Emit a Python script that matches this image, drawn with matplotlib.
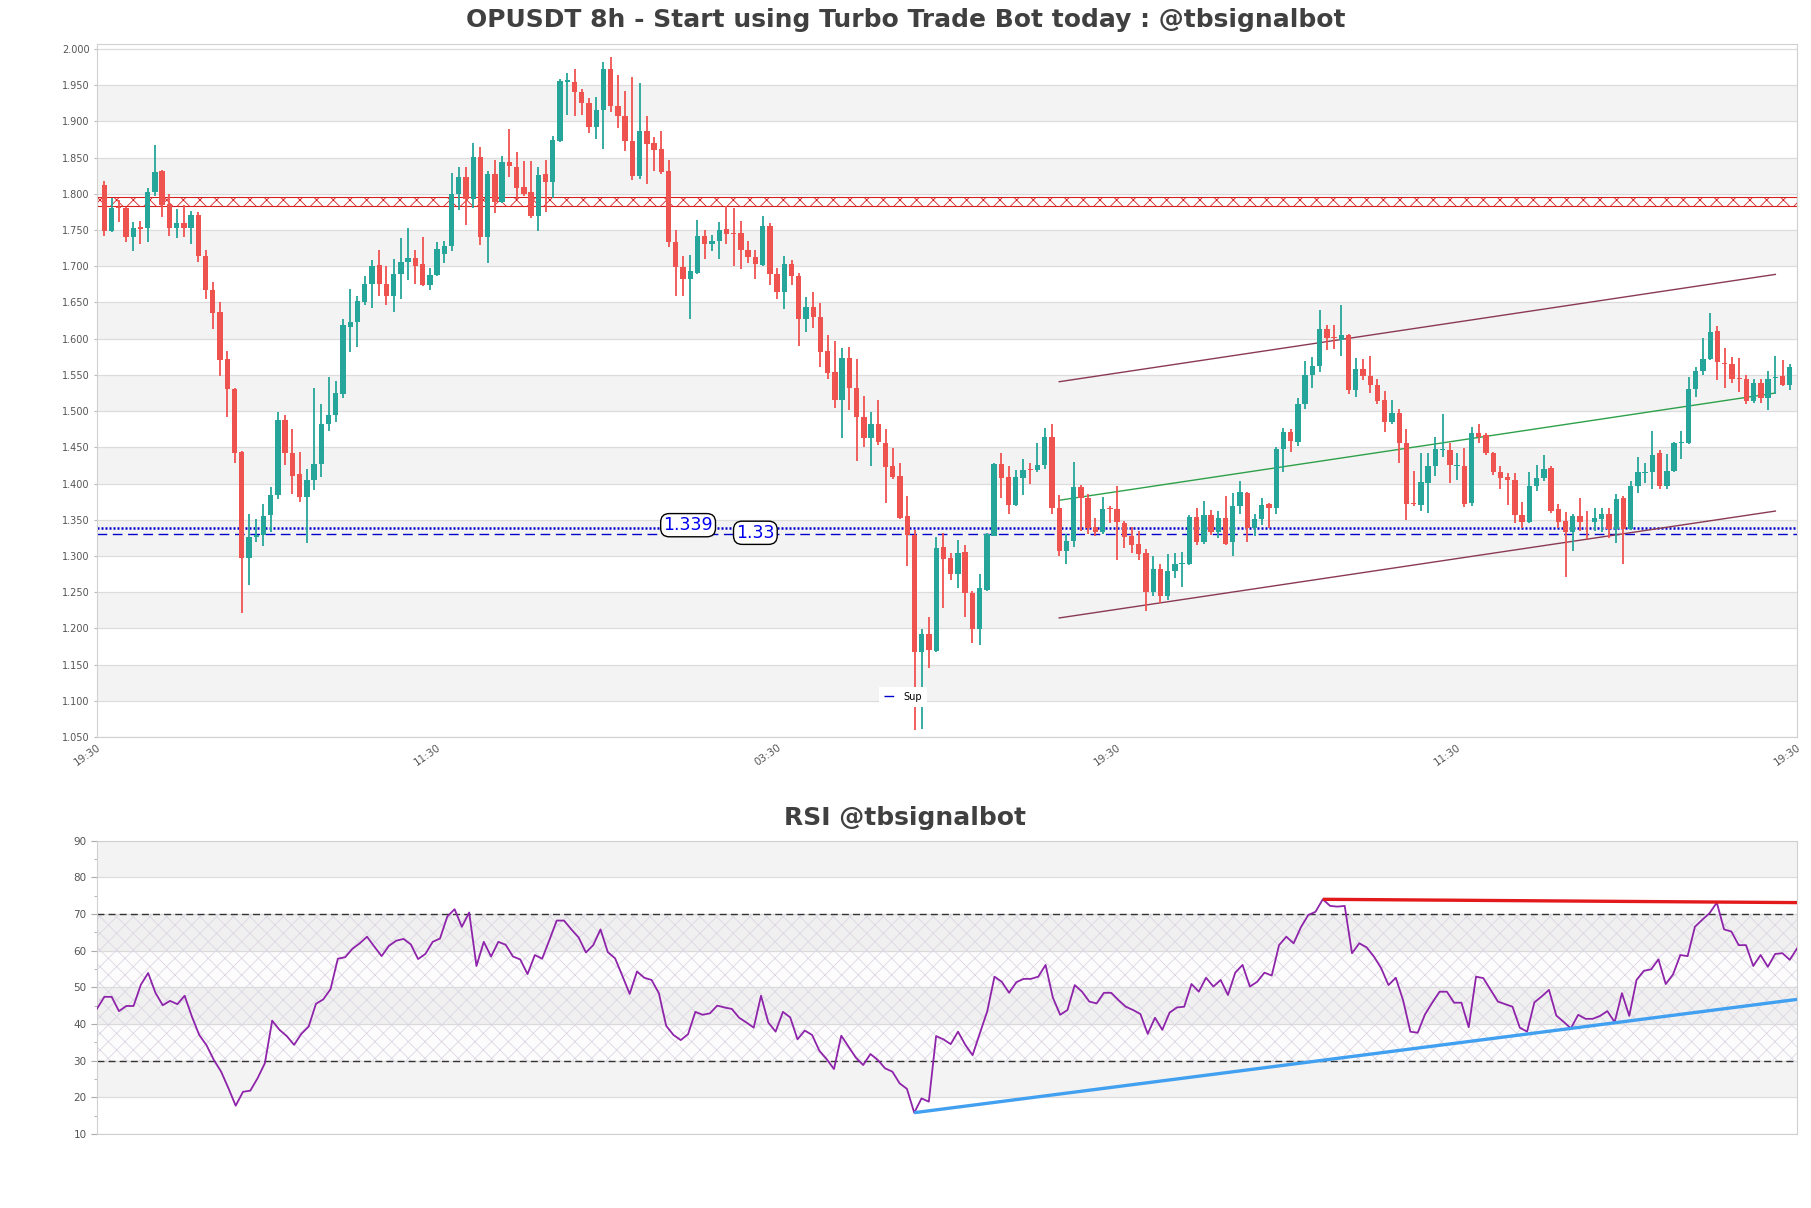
import numpy as np
import matplotlib
matplotlib.use("Agg")
import matplotlib.pyplot as plt

plt.rcParams['font.family'] = ['DejaVu Sans']
plt.rcParams['hatch.linewidth'] = 0.6

# ---------------- data ----------------
opens = [1.8125, 1.749, 1.781, 1.781, 1.741, 1.754, 1.753, 1.802, 1.832, 1.786,
         1.753, 1.760, 1.753, 1.771, 1.714, 1.667, 1.6375, 1.572, 1.531, 1.443,
         1.297, 1.326, 1.329, 1.356, 1.384, 1.4875, 1.442, 1.4138, 1.382, 1.405,
         1.427, 1.4825, 1.495, 1.524, 1.616, 1.6225, 1.651, 1.676, 1.702, 1.676,
         1.659, 1.689, 1.706, 1.712, 1.703, 1.674, 1.688, 1.7175, 1.7275, 1.800,
         1.823, 1.7925, 1.851, 1.741, 1.8275, 1.789, 1.8444, 1.8375, 1.8094, 1.8025,
         1.770, 1.8269, 1.817, 1.8725, 1.955, 1.955, 1.940, 1.9256, 1.8925, 1.9156,
         1.972, 1.922, 1.908, 1.8725, 1.825, 1.8875, 1.870, 1.8625, 1.831, 1.7338,
         1.6988, 1.6831, 1.6906, 1.7419, 1.7313, 1.7344, 1.7513, 1.7456, 1.7463, 1.7231,
         1.7125, 1.7019, 1.7563, 1.6894, 1.665, 1.7031, 1.6863, 1.6275, 1.6431, 1.630,
         1.5825, 1.5544, 1.5156, 1.5731, 1.5313, 1.4919, 1.4625, 1.4825, 1.4563, 1.4238,
         1.4106, 1.355, 1.3294, 1.1675, 1.1925, 1.1688, 1.3125, 1.2969, 1.275, 1.305,
         1.2488, 1.1988, 1.2531, 1.3281, 1.4269, 1.4094, 1.370, 1.4081, 1.4206, 1.4188,
         1.425, 1.4638, 1.3656, 1.3075, 1.320, 1.395, 1.380, 1.3406, 1.3325, 1.365,
         1.3644, 1.3456, 1.3281, 1.3169, 1.3044, 1.250, 1.2825, 1.245, 1.2794, 1.2888,
         1.2888, 1.3544, 1.3188, 1.3563, 1.3325, 1.3519, 1.3188, 1.3688, 1.3875, 1.3388,
         1.3513, 1.3719, 1.3656, 1.4481, 1.4706, 1.4575, 1.5094, 1.550, 1.5625, 1.6138,
         1.6019, 1.5988, 1.605, 1.5294, 1.5575, 1.5488, 1.5363, 1.5156, 1.4844, 1.4981,
         1.4563, 1.3725, 1.3706, 1.4013, 1.4238, 1.4463, 1.4469, 1.4244, 1.4238, 1.3738,
         1.470, 1.4675, 1.4425, 1.4156, 1.4094, 1.405, 1.3563, 1.3469, 1.3969, 1.4075,
         1.4219, 1.3644, 1.3481, 1.3331, 1.355, 1.3475, 1.3469, 1.3513, 1.3581, 1.3375,
         1.380, 1.3375, 1.3969, 1.415, 1.4156, 1.4419, 1.3969, 1.4169, 1.4556, 1.4563,
         1.530, 1.555, 1.5719, 1.6106, 1.5663, 1.5644, 1.5463, 1.5438, 1.5144, 1.5388,
         1.5175, 1.5456, 1.5488, 1.5363]
highs = [1.8175, 1.794, 1.791, 1.782, 1.761, 1.7625, 1.8075, 1.8675, 1.833, 1.800,
         1.779, 1.784, 1.776, 1.775, 1.722, 1.678, 1.650, 1.5825, 1.532, 1.445,
         1.3575, 1.351, 1.372, 1.395, 1.499, 1.494, 1.475, 1.444, 1.420, 1.5325,
         1.5094, 1.547, 1.541, 1.627, 1.669, 1.659, 1.686, 1.709, 1.722, 1.700,
         1.7106, 1.7394, 1.753, 1.722, 1.740, 1.697, 1.7338, 1.735, 1.8288, 1.8375,
         1.8375, 1.8706, 1.865, 1.831, 1.847, 1.8525, 1.8894, 1.858, 1.845, 1.845,
         1.8375, 1.847, 1.8794, 1.959, 1.967, 1.972, 1.945, 1.933, 1.934, 1.9825,
         1.9888, 1.964, 1.942, 1.961, 1.953, 1.9075, 1.878, 1.8875, 1.847, 1.750,
         1.7138, 1.7156, 1.7638, 1.750, 1.7438, 1.7606, 1.7838, 1.780, 1.7625, 1.7344,
         1.7219, 1.7688, 1.7594, 1.6981, 1.7144, 1.7081, 1.6906, 1.6575, 1.6644, 1.6488,
         1.605, 1.5969, 1.5875, 1.5888, 1.5719, 1.5206, 1.4988, 1.5156, 1.475, 1.4488,
         1.4281, 1.3831, 1.3363, 1.1988, 1.2156, 1.3263, 1.3313, 1.3044, 1.3219, 1.3156,
         1.2513, 1.275, 1.3313, 1.4281, 1.4425, 1.4238, 1.4188, 1.4344, 1.4281, 1.4563,
         1.4769, 1.4825, 1.3844, 1.330, 1.430, 1.3981, 1.3856, 1.3531, 1.3813, 1.3688,
         1.3969, 1.3488, 1.3406, 1.3344, 1.3094, 1.300, 1.2888, 1.3031, 1.3044, 1.305,
         1.3563, 1.3656, 1.3763, 1.3638, 1.3625, 1.3825, 1.3875, 1.4031, 1.3888, 1.3575,
         1.380, 1.3738, 1.450, 1.4763, 1.475, 1.5175, 1.5688, 1.575, 1.6394, 1.6188,
         1.6188, 1.6469, 1.6063, 1.5731, 1.5719, 1.5763, 1.5438, 1.5281, 1.5156, 1.5031,
         1.475, 1.4169, 1.4419, 1.4425, 1.4644, 1.4963, 1.4563, 1.4419, 1.4488, 1.4781,
         1.4825, 1.470, 1.4438, 1.4238, 1.4144, 1.4144, 1.375, 1.4156, 1.425, 1.4388,
         1.4238, 1.3719, 1.3613, 1.3575, 1.380, 1.3625, 1.3656, 1.3669, 1.3656, 1.3856,
         1.3825, 1.4031, 1.4363, 1.4281, 1.4719, 1.4469, 1.4406, 1.4575, 1.4719, 1.5469,
         1.5613, 1.6013, 1.6356, 1.6169, 1.5875, 1.575, 1.5731, 1.550, 1.5438, 1.5438,
         1.555, 1.5763, 1.5706, 1.5656]
lows = [1.7425, 1.747, 1.761, 1.734, 1.721, 1.731, 1.734, 1.797, 1.7675, 1.7425,
        1.739, 1.741, 1.731, 1.706, 1.655, 1.614, 1.549, 1.492, 1.428, 1.2206,
        1.2594, 1.319, 1.3138, 1.3325, 1.379, 1.425, 1.386, 1.374, 1.3175, 1.3906,
        1.4094, 1.472, 1.4844, 1.5175, 1.581, 1.589, 1.646, 1.642, 1.659, 1.647,
        1.6375, 1.655, 1.681, 1.675, 1.673, 1.667, 1.686, 1.705, 1.7206, 1.778,
        1.7575, 1.781, 1.730, 1.705, 1.773, 1.788, 1.823, 1.7925, 1.797, 1.767,
        1.749, 1.775, 1.794, 1.872, 1.909, 1.908, 1.909, 1.884, 1.876, 1.8625,
        1.9125, 1.8906, 1.859, 1.819, 1.8206, 1.814, 1.831, 1.828, 1.7269, 1.6594,
        1.6594, 1.6269, 1.6888, 1.7094, 1.7206, 1.7094, 1.7313, 1.700, 1.6956, 1.705,
        1.6825, 1.700, 1.6738, 1.655, 1.6406, 1.6738, 1.5894, 1.6094, 1.6144, 1.5613,
        1.5438, 1.505, 1.4625, 1.5019, 1.4313, 1.450, 1.4238, 1.4531, 1.3738, 1.4063,
        1.3513, 1.2856, 1.0594, 1.0613, 1.145, 1.1675, 1.2281, 1.2669, 1.2563, 1.2156,
        1.180, 1.1769, 1.2519, 1.3269, 1.3794, 1.3575, 1.3688, 1.3844, 1.3988, 1.4156,
        1.420, 1.3575, 1.300, 1.2894, 1.3125, 1.3344, 1.330, 1.3269, 1.330, 1.345,
        1.2938, 1.3113, 1.3044, 1.295, 1.2238, 1.245, 1.2344, 1.2394, 1.270, 1.2575,
        1.2875, 1.3156, 1.3169, 1.3294, 1.325, 1.3156, 1.300, 1.3575, 1.3188, 1.3281,
        1.3425, 1.3388, 1.3575, 1.4156, 1.4438, 1.4513, 1.5031, 1.5313, 1.5544, 1.5844,
        1.5863, 1.5763, 1.5231, 1.520, 1.5425, 1.525, 1.5094, 1.4706, 1.4825, 1.4281,
        1.350, 1.3688, 1.3625, 1.3594, 1.4106, 1.4363, 1.4013, 1.4044, 1.3675, 1.3688,
        1.4563, 1.4388, 1.4113, 1.3919, 1.3706, 1.345, 1.3388, 1.3456, 1.3894, 1.4031,
        1.3594, 1.3388, 1.2706, 1.3075, 1.3344, 1.3238, 1.3344, 1.3325, 1.325, 1.3175,
        1.2888, 1.3363, 1.3875, 1.4013, 1.3919, 1.3919, 1.3919, 1.4156, 1.4344, 1.455,
        1.520, 1.550, 1.570, 1.5425, 1.5325, 1.5394, 1.5263, 1.5094, 1.5113, 1.5106,
        1.5013, 1.5238, 1.5344, 1.5294]
closes = [1.749, 1.781, 1.780, 1.741, 1.753, 1.752, 1.802, 1.830, 1.784, 1.753,
          1.760, 1.753, 1.771, 1.714, 1.667, 1.636, 1.571, 1.531, 1.442, 1.297,
          1.326, 1.329, 1.3556, 1.3844, 1.4875, 1.442, 1.411, 1.381, 1.405, 1.427,
          1.4825, 1.495, 1.525, 1.619, 1.6225, 1.6525, 1.675, 1.701, 1.676, 1.659,
          1.6894, 1.706, 1.712, 1.701, 1.674, 1.688, 1.7238, 1.728, 1.800, 1.823,
          1.7925, 1.851, 1.741, 1.8275, 1.7888, 1.8444, 1.838, 1.808, 1.800, 1.770,
          1.826, 1.817, 1.8744, 1.956, 1.957, 1.940, 1.925, 1.8925, 1.9156, 1.972,
          1.922, 1.9075, 1.8725, 1.825, 1.8875, 1.869, 1.8606, 1.830, 1.7338, 1.6988,
          1.6831, 1.6938, 1.7419, 1.7313, 1.7344, 1.750, 1.745, 1.7444, 1.7231, 1.7125,
          1.7025, 1.7563, 1.6894, 1.665, 1.7031, 1.6863, 1.6275, 1.6438, 1.6294, 1.5813,
          1.5531, 1.5156, 1.5731, 1.5313, 1.4919, 1.4625, 1.4825, 1.4575, 1.4231, 1.4088,
          1.3525, 1.3294, 1.1675, 1.1925, 1.170, 1.3113, 1.2963, 1.275, 1.3044, 1.2488,
          1.1988, 1.2563, 1.330, 1.4263, 1.4081, 1.370, 1.4094, 1.4188, 1.4188, 1.425,
          1.4638, 1.3656, 1.3075, 1.3213, 1.395, 1.380, 1.3388, 1.3325, 1.3644, 1.3644,
          1.3469, 1.3263, 1.3156, 1.3031, 1.250, 1.2825, 1.245, 1.2794, 1.2888, 1.290,
          1.3544, 1.3188, 1.3563, 1.3325, 1.3519, 1.3169, 1.3688, 1.3888, 1.3388, 1.3513,
          1.3706, 1.3656, 1.4481, 1.4706, 1.4581, 1.5094, 1.550, 1.5625, 1.6138, 1.6013,
          1.6006, 1.605, 1.5294, 1.5575, 1.5488, 1.5363, 1.5144, 1.4844, 1.4981, 1.4563,
          1.3719, 1.3713, 1.4019, 1.4238, 1.4481, 1.4481, 1.425, 1.4256, 1.3719, 1.470,
          1.4638, 1.4419, 1.4156, 1.4081, 1.4044, 1.3563, 1.3469, 1.3969, 1.4075, 1.4206,
          1.3625, 1.3469, 1.3331, 1.355, 1.3469, 1.3463, 1.3519, 1.3581, 1.3375, 1.3781,
          1.3375, 1.3969, 1.4156, 1.4163, 1.4388, 1.3969, 1.4169, 1.4563, 1.4569, 1.530,
          1.555, 1.5719, 1.6094, 1.5675, 1.565, 1.5438, 1.545, 1.5144, 1.5388, 1.5175,
          1.5438, 1.5475, 1.5363, 1.5613]

rsi = [44.2, 47.4, 47.4, 43.5, 44.9, 44.9, 50.7, 53.9, 48.5, 45.1,
       46.3, 45.4, 47.7, 42.0, 37.0, 34.2, 30.2, 27.0, 22.5, 17.7,
       21.5, 21.8, 25.2, 29.3, 40.9, 38.4, 36.7, 34.3, 37.3, 39.3,
       45.5, 46.7, 49.5, 57.8, 58.2, 60.5, 62.0, 63.8, 61.1, 58.5,
       61.3, 62.7, 63.2, 61.7, 57.7, 59.1, 62.4, 63.3, 69.3, 71.3,
       66.5, 70.4, 55.8, 62.4, 58.4, 62.4, 61.6, 58.4, 57.6, 53.6,
       58.8, 57.8, 62.9, 68.2, 68.2, 65.8, 63.6, 59.5, 61.5, 65.8,
       59.6, 57.9, 53.1, 48.2, 54.3, 52.6, 52.0, 48.4, 39.5, 37.0,
       35.6, 37.2, 43.3, 42.5, 42.9, 45.0, 44.5, 44.1, 41.7, 40.4,
       39.0, 47.7, 40.4, 37.9, 43.3, 41.8, 35.8, 38.2, 37.0, 32.7,
       30.4, 27.7, 36.8, 33.8, 30.8, 28.8, 31.8, 30.2, 27.9, 27.0,
       23.8, 22.3, 15.8, 19.7, 18.8, 36.7, 35.8, 34.5, 37.9, 34.3,
       31.5, 37.5, 43.4, 52.9, 51.5, 48.5, 51.4, 52.3, 52.3, 52.9,
       56.1, 47.2, 42.5, 43.8, 50.6, 48.8, 46.1, 45.6, 48.5, 48.5,
       46.5, 44.7, 43.8, 42.7, 37.3, 41.7, 38.4, 43.1, 44.5, 44.7,
       50.9, 48.8, 52.6, 50.2, 52.0, 47.9, 54.0, 56.1, 50.2, 51.5,
       54.0, 53.2, 61.5, 63.8, 62.0, 66.4, 69.7, 70.6, 74.0, 72.2,
       72.0, 72.2, 59.3, 62.0, 60.9, 58.4, 55.2, 50.6, 52.6, 46.5,
       37.9, 37.6, 42.6, 45.8, 48.8, 48.8, 45.8, 45.8, 39.1, 52.9,
       52.5, 49.3, 46.1, 45.4, 44.7, 39.0, 37.9, 45.9, 47.5, 49.3,
       42.3, 40.6, 38.8, 42.5, 41.4, 41.4, 42.2, 43.5, 40.5, 48.4,
       42.2, 52.0, 54.5, 54.9, 57.6, 50.9, 53.5, 58.8, 58.5, 66.5,
       68.4, 70.2, 73.1, 65.8, 65.2, 61.5, 61.5, 55.8, 58.8, 55.6,
       59.1, 59.3, 57.5, 60.6]

x_tick_labels = ['19:30', '11:30', '03:30', '19:30', '11:30', '19:30']
resistance_level = [1.7838, 1.7952]
support_levels = [1.339, 1.33]
support_labels = ['1.339', '1.33']
channel_x = [132, 231]
channel_upper = [1.5406, 1.6888]
channel_lower = [1.2144, 1.3620]
channel_mid = [1.3769, 1.5250]
rsi_res_x = [168, 233]
rsi_res_y = [74.0, 73.1]
rsi_sup_x = [112, 233]
rsi_sup_y = [15.8, 46.7]

title = 'OPUSDT 8h - Start using Turbo Trade Bot today : @tbsignalbot'
rsi_title = 'RSI @tbsignalbot'

# ---------------- figure ----------------
GREEN = '#26a69a'
RED = '#ef5350'
BAND = '#f3f3f3'
GRID = '#dcdcdc'
SPINE = '#d0d0d0'
TXT = '#555555'

fig = plt.figure(figsize=(18.11, 12.08), dpi=100)
ax1 = fig.add_axes([0.0536, 0.3899, 0.9387, 0.5740])
ax2 = fig.add_axes([0.0536, 0.0613, 0.9387, 0.2428])

o = np.array(opens); h = np.array(highs); l = np.array(lows); c = np.array(closes)
x = np.arange(len(o))
up = c >= o
cols = np.where(up, GREEN, RED)

# background bands
yt = np.round(np.arange(1.05, 2.0001, 0.05), 3)
for k in range(len(yt) - 1):
    if k % 2 == 1:
        ax1.axhspan(yt[k], yt[k + 1], color=BAND, zorder=0, lw=0)
ax1.set_yticks(yt)
ax1.set_yticklabels(['%.3f' % v for v in yt])
ax1.grid(axis='y', color=GRID, lw=0.9, zorder=0.5)
ax1.set_axisbelow(True)

# resistance band (hatched)
ax1.axhspan(resistance_level[0], resistance_level[1], facecolor='none',
            edgecolor='#d62020', hatch='xx', lw=0.8, zorder=2)

# support lines
ax1.axhline(support_levels[0], color='#0000cc', lw=1.8, ls=(0, (0.8, 0.8)), zorder=2)
ax1.axhline(support_levels[1], color='#0000cc', lw=1.0, ls=(0, (7, 4)), zorder=2,
            label='Sup')

# channel
ax1.plot(channel_x, channel_upper, color='#8a3a52', lw=1.0, zorder=2)
ax1.plot(channel_x, channel_lower, color='#8a3a52', lw=1.0, zorder=2)
ax1.plot(channel_x, channel_mid, color='#2ea04a', lw=1.0, zorder=2)

# candles
ax1.vlines(x, l, h, colors=cols, lw=1.3, zorder=3)
body_bottom = np.minimum(o, c)
body_h = np.maximum(np.abs(c - o), 0.0012)
ax1.bar(x, body_h, bottom=body_bottom, width=0.74, color=cols, lw=0, zorder=4)

# level labels
ax1.text(80.7, 1.3425, support_labels[0], color='#0000ee', fontsize=12.5,
         ha='center', va='center', zorder=6,
         bbox=dict(boxstyle='round,pad=0.15,rounding_size=0.5', fc='white', ec='black', lw=1))
ax1.text(90.0, 1.3320, support_labels[1], color='#0000ee', fontsize=12.5,
         ha='center', va='center', zorder=6,
         bbox=dict(boxstyle='round,pad=0.15,rounding_size=0.5', fc='white', ec='black', lw=1))

leg = ax1.legend(loc='center', bbox_to_anchor=(0.474, 0.058), fontsize=7,
                 frameon=True, framealpha=1, edgecolor='white', fancybox=False,
                 handlelength=1.2, borderpad=0.5)
leg.get_frame().set_linewidth(0)

ax1.set_xlim(-1, 234)
ax1.set_ylim(1.05, 2.0075)
xt = np.linspace(-1, 234, 6)
ax1.set_xticks(xt)
ax1.set_xticklabels(x_tick_labels, rotation=35, ha='right', rotation_mode='anchor',
                    fontsize=7.5, color=TXT)
ax1.tick_params(axis='x', length=0, pad=4)
ax1.tick_params(axis='y', labelsize=7, colors=TXT, length=2, color='#bbbbbb')
for s in ax1.spines.values():
    s.set_color(SPINE)

# ---------------- RSI ----------------
for lo_, hi_ in [(80, 90), (60, 70), (40, 50), (20, 30)]:
    ax2.axhspan(lo_, hi_, color=BAND, zorder=0, lw=0)
ax2.axhspan(30, 70, facecolor=(0.6, 0.45, 0.7, 0.015), edgecolor='#dcd6e2',
            hatch='xx', lw=0, zorder=0.6)
ax2.set_yticks(np.arange(10, 91, 10))
ax2.set_yticks(np.arange(15, 90, 10), minor=True)
ax2.grid(axis='y', which='major', color=GRID, lw=0.9, zorder=0.5)
ax2.set_axisbelow(True)
ax2.axhline(70, color='#333333', lw=1.0, ls=(0, (5, 3)), zorder=2)
ax2.axhline(30, color='#333333', lw=1.0, ls=(0, (5, 3)), zorder=2)

xr = np.arange(len(rsi))
ax2.plot(xr, rsi, color='#8e24aa', lw=1.3, zorder=3)
ax2.plot(rsi_res_x, rsi_res_y, color='#e31a1c', lw=2.4, zorder=4, solid_capstyle='butt')
ax2.plot(rsi_sup_x, rsi_sup_y, color='#42a0f0', lw=2.4, zorder=4, solid_capstyle='butt')

ax2.set_xlim(0, len(rsi) - 1)
ax2.set_ylim(10, 90)
ax2.set_xticks([])
ax2.tick_params(axis='y', which='major', labelsize=7.5, colors=TXT, length=4, color='#aaaaaa')
ax2.tick_params(axis='y', which='minor', length=2.5, color='#aaaaaa')
for s in ax2.spines.values():
    s.set_color(SPINE)

fig.text(0.5, 1 - 20 / 1208, title, ha='center', va='center', fontsize=18,
         fontweight='bold', color='#404040')
fig.text(0.5, 1 - 818 / 1208, rsi_title, ha='center', va='center', fontsize=18,
         fontweight='bold', color='#404040')

fig.savefig('out.png', dpi=100)
